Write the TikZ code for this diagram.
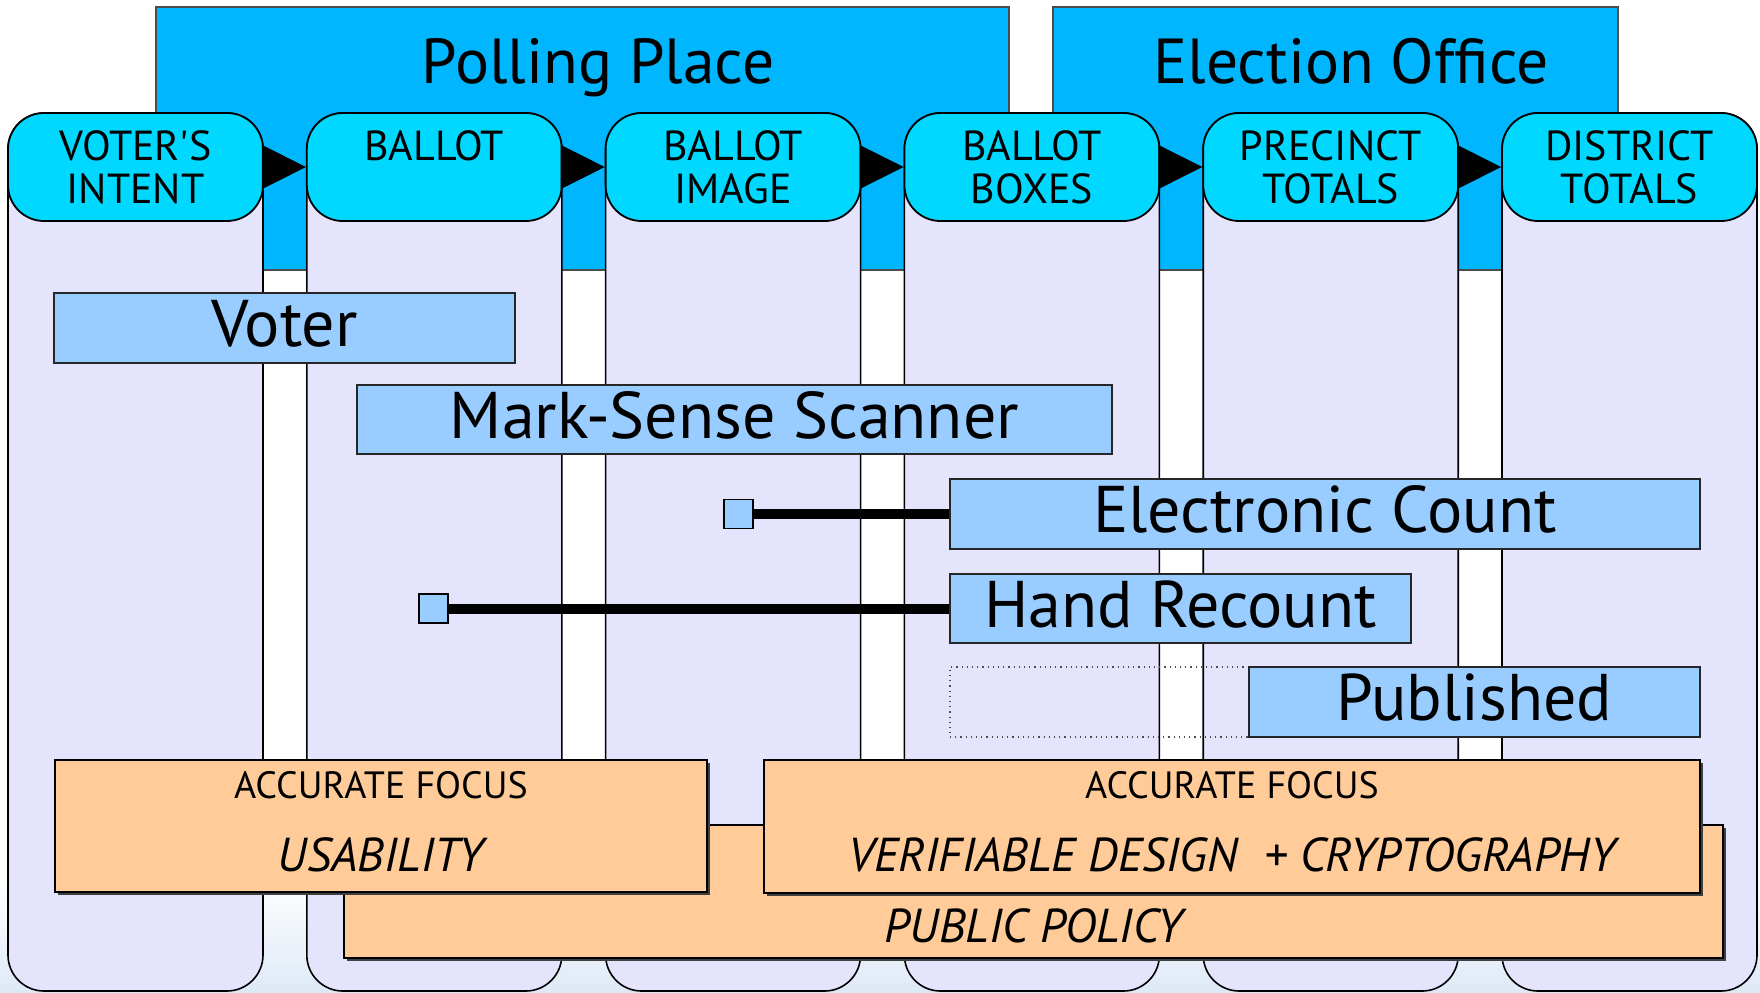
\documentclass[tikz,border=0pt]{standalone}
\usepackage{fontspec}
\setmainfont{PT Sans}[Ligatures=TeXOff]
\usetikzlibrary{arrows.meta,shadows}
\definecolor{band}{RGB}{0,182,255}
\definecolor{hdr}{RGB}{0,216,255}
\definecolor{lav}{RGB}{228,228,252}
\definecolor{rowblue}{RGB}{153,204,255}
\definecolor{orng}{RGB}{255,204,153}
\definecolor{bgblue}{RGB}{222,233,246}
\begin{document}
\begin{tikzpicture}[x=0.5pt,y=-0.5pt,
  colbox/.style={draw=black, line width=0.8pt, fill=lav, rounded corners=18pt, minimum width=127.5pt, minimum height=439pt, inner sep=0pt},
  hdrbox/.style={draw=black, line width=0.9pt, fill=hdr, rounded corners=18pt, minimum width=127.5pt, minimum height=54pt, inner sep=0pt},
  hdrtext/.style={font=\fontsize{21}{21.5}\selectfont, align=center, inner sep=0pt, anchor=north},
  bandbox/.style={draw=black!70, line width=0.6pt, fill=band},
  titletext/.style={font=\fontsize{31.8}{36}\selectfont, inner sep=0pt, anchor=base},
  rowbox/.style={draw=black!85, line width=0.7pt, fill=rowblue, inner sep=0pt, text height=22.5pt, text depth=4pt, font=\fontsize{33}{38}\selectfont},
  sqbox/.style={draw=black, line width=0.7pt, fill=rowblue, minimum size=14.5pt, inner sep=0pt},
  dotbox/.style={draw=black!70, dotted, line width=0.6pt, inner sep=0pt},
  link/.style={line width=5pt, black},
  flowarrow/.style={-{Triangle[length=22pt,width=22pt]}, line width=0.5pt},
  focusbox/.style={draw=black, line width=0.8pt, fill=orng, inner sep=0pt, drop shadow={shadow xshift=1.3pt, shadow yshift=-1.3pt, fill=black!75, opacity=1}},
  smalltext/.style={font=\fontsize{19}{21}\selectfont, inner sep=0pt, anchor=base},
  bigitalic/.style={font=\fontsize{23.8}{26}\selectfont\itshape, inner sep=0pt, anchor=base}
]
\useasboundingbox (0,0) rectangle (1760,992);
\fill[white] (0,0) rectangle (1760,992);
\shade[top color=white, bottom color=bgblue] (0,880) rectangle (1760,992);

% location bands
\draw[bandbox] (156,7) rectangle (1009,270);
\draw[bandbox] (1053,7) rectangle (1618,270);
\node[titletext] (tpoll) at (598,83) {Polling Place};
\node[titletext] (toff) at (1351,83) {Election Office};

% columns
\node[colbox] (c1) at (135.5,552) {};
\node[colbox] (c2) at (434.3,552) {};
\node[colbox] (c3) at (733.1,552) {};
\node[colbox] (c4) at (1031.9,552) {};
\node[colbox] (c5) at (1330.7,552) {};
\node[colbox] (c6) at (1629.5,552) {};

% headers
\node[hdrbox] (h1) at (135.5,167) {};
\node[hdrbox] (h2) at (434.3,167) {};
\node[hdrbox] (h3) at (733.1,167) {};
\node[hdrbox] (h4) at (1031.9,167) {};
\node[hdrbox] (h5) at (1330.7,167) {};
\node[hdrbox] (h6) at (1629.5,167) {};
\node[hdrtext] (ht1) at (135.5,130) {VOTER'S\\INTENT};
\node[hdrtext] (ht2) at (434.3,130) {BALLOT};
\node[hdrtext] (ht3) at (733.1,130) {BALLOT\\IMAGE};
\node[hdrtext] (ht4) at (1031.9,130) {BALLOT\\BOXES};
\node[hdrtext] (ht5) at (1330.7,130) {PRECINCT\\TOTALS};
\node[hdrtext] (ht6) at (1629.5,130) {DISTRICT\\TOTALS};
\draw[flowarrow] (h1.east) -- (h2.west);
\draw[flowarrow] (h2.east) -- (h3.west);
\draw[flowarrow] (h3.east) -- (h4.west);
\draw[flowarrow] (h4.east) -- (h5.west);
\draw[flowarrow] (h5.east) -- (h6.west);

% component bars
\node[rowbox, minimum width=230.5pt, minimum height=35pt] (voter) at (284.5,328) {Voter};
\node[rowbox, minimum width=377.5pt, minimum height=34.5pt] (mss) at (734.5,419.5) {Mark-Sense Scanner};
\node[rowbox, minimum width=375pt, minimum height=35pt] (ec) at (1325,514) {Electronic Count};
\node[rowbox, minimum width=230.5pt, minimum height=34.5pt] (hr) at (1180.5,608.5) {Hand Recount};
\node[dotbox, minimum width=149.5pt, minimum height=35pt] (dots) at (1099.5,702) {};
\node[rowbox, minimum width=225.5pt, minimum height=35pt] (pub) at (1474.5,702) {Published};

\node[sqbox] (sq1) at (738.5,514) {};
\node[sqbox] (sq2) at (433.5,608.5) {};
\draw[link] (sq1.east) -- (ec.west);
\draw[link] (sq2.east) -- (hr.west);

% focus boxes
\node[focusbox, minimum width=689.5pt, minimum height=66.5pt] (pp) at (1033.5,891.5) {};
\node[focusbox, minimum width=326pt, minimum height=66pt] (af1) at (381,826) {};
\node[focusbox, minimum width=468pt, minimum height=66.5pt] (af2) at (1232,826.5) {};
\node[smalltext] (af1a) at (381,798) {ACCURATE FOCUS};
\node[bigitalic] (af1b) at (381,871) {USABILITY};
\node[smalltext] (af2a) at (1232,798) {ACCURATE FOCUS};
\node[bigitalic] (af2b) at (1232,871) {VERIFIABLE DESIGN\hspace{0.55em}+ CRYPTOGRAPHY};
\node[bigitalic] (ppt) at (1033.5,942) {PUBLIC POLICY};
\end{tikzpicture}
\end{document}
